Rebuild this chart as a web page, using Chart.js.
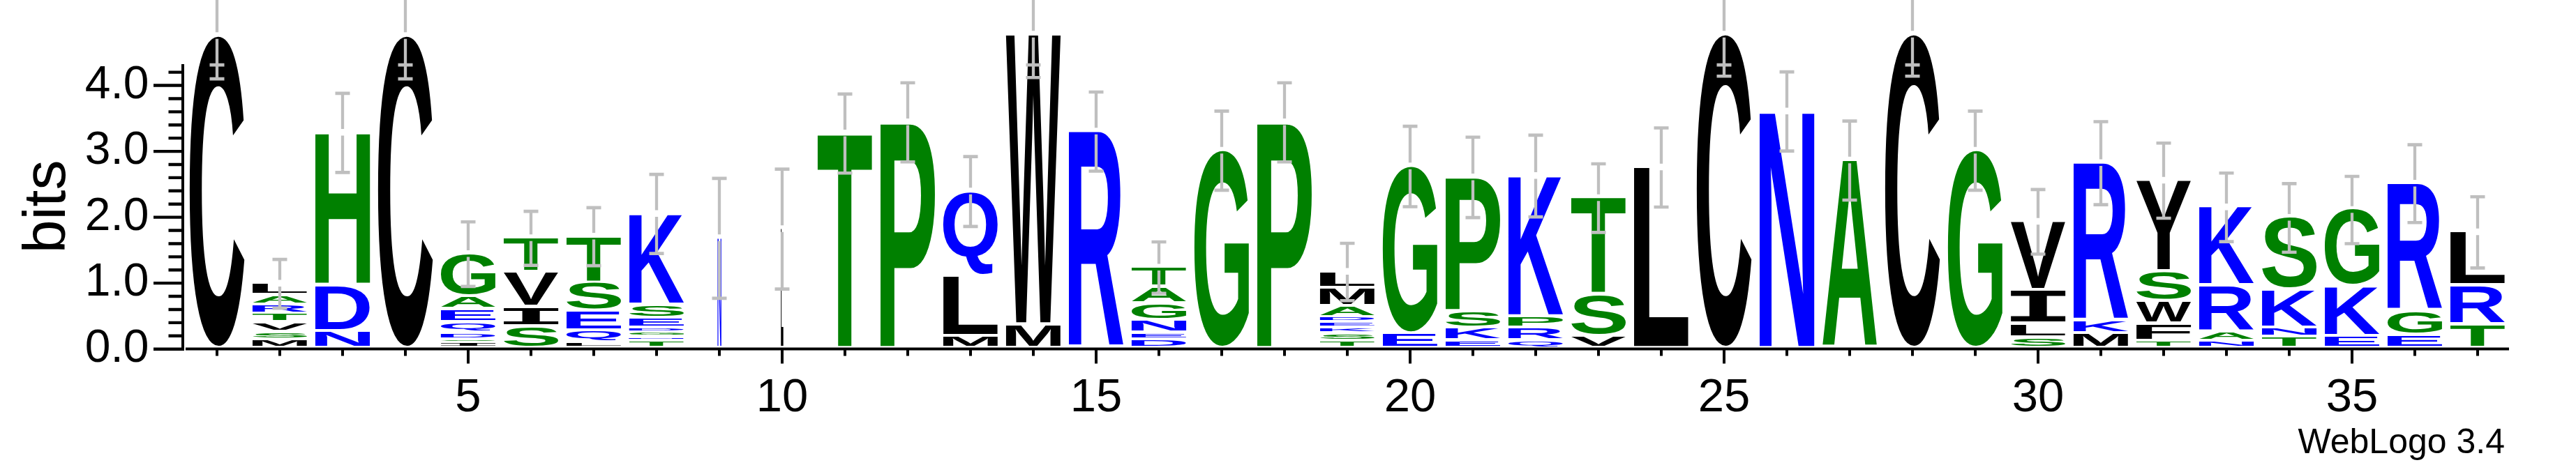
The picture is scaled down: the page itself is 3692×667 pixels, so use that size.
<!DOCTYPE html>
<html>
<head>
<meta charset="utf-8">
<script src="https://cdn.jsdelivr.net/npm/chart.js@4.4.1/dist/chart.umd.min.js"></script>
<style>
html,body{margin:0;padding:0;background:#fff;}
#wrap{width:3692px;height:667px;position:relative;}
canvas{display:block;}
</style>
</head>
<body>
<div id="wrap"><canvas id="logo" width="3692" height="667"></canvas></div>
<script>
// ---------- DATA ----------
const positions = [1,2,3,4,5,6,7,8,9,10,11,12,13,14,15,16,17,18,19,20,21,22,23,24,25,26,27,28,29,30,31,32,33,34,35,36,37];

// letters of each stack, bottom -> top
const stackLetters = ["C","MSVTRAL","NDH","C","ISDQEAG","SIVT","LQEST","TNGDESK","N","L",
  "T","P","MLQ","MW","R","DENGAT","G","P","TSKEDAML","EG",
  "EKSP","QRPK","VST","L","C","N","A","C","G","SLIV",
  "MKR","TFWSY","NARK","TNKS","EKG","EGR","TRL"];

// heights in bits of each letter, bottom -> top
const stackHeights = [
  [4.75],
  [0.13,0.115,0.145,0.135,0.135,0.145,0.185],
  [0.26,0.70,2.32],
  [4.75],
  [0.08,0.05,0.105,0.155,0.20,0.20,0.65],
  [0.33,0.295,0.535,0.52],
  [0.09,0.18,0.30,0.43,0.705],
  [0.11,0.06,0.07,0.07,0.15,0.20,1.39],
  [1.68],
  [1.82],
  [3.27],
  [3.44],
  [0.18,0.92,1.29],
  [0.36,4.41],
  [3.30],
  [0.13,0.10,0.195,0.25,0.255,0.305],
  [3.01],
  [3.44],
  [0.11,0.11,0.09,0.08,0.08,0.165,0.28,0.255],
  [0.22,2.55],
  [0.115,0.19,0.255,2.045],
  [0.115,0.19,0.175,2.145],
  [0.18,0.635,1.475],
  [2.755],
  [4.77],
  [3.605],
  [2.86],
  [4.77],
  [3.01],
  [0.16,0.21,0.51,1.05],
  [0.22,0.19,2.41],
  [0.11,0.26,0.35,0.45,1.385],
  [0.11,0.14,0.70,1.20],
  [0.17,0.14,0.575,1.105],
  [0.18,0.76,1.17],
  [0.20,0.365,1.945],
  [0.36,0.59,0.82]
];

// half length of the error bar (bits), per position
const errorHalf = [0.65,0.37,0.60,0.65,0.49,0.41,0.44,0.60,0.91,0.91,
  0.60,0.60,0.53,0.65,0.60,0.39,0.60,0.60,0.435,0.61,
  0.61,0.62,0.52,0.60,0.63,0.60,0.60,0.63,0.60,0.49,
  0.63,0.57,0.52,0.52,0.51,0.59,0.54];

// fraction of non-gap symbols (scales the stack width)
const columnWidth = [1,1,1,1,1,1,1,1,0.07,0.045,1,1,1,1,1,1,1,1,1,1,1,1,1,1,1,1,1,1,1,1,1,1,1,1,1,1,1];

const yTickValues = [0,1,2,3,4];
const xTickLabels = ["5","10","15","20","25","30","35"];
const yAxisTitle = "bits";
const creditText = "WebLogo 3.4";
const yMaxBits = Math.log2(20);

// ---------- STYLE ----------
const FAMILY = '"Liberation Sans", Arial, Helvetica, sans-serif';
const colorOf = ch => "RKDENQ".includes(ch) ? "rgb(0,0,255)" : ("SGHTAP".includes(ch) ? "rgb(0,128,0)" : "#000000");
const glyphFont = ch => (ch === "I" ? 'bold 200px "Liberation Mono", "DejaVu Sans Mono", monospace' : "bold 200px " + FAMILY);

const maxDepth = Math.max(...stackHeights.map(s => s.length));
const datasets = [];
for (let k = 0; k < maxDepth; k++) {
  datasets.push({
    label: "rank " + (k + 1),
    data: stackHeights.map(s => (k < s.length ? s[k] : 0)),
    backgroundColor: "rgba(0,0,0,0)",
    borderWidth: 0,
    stack: "logo",
    barPercentage: 0.8722,
    categoryPercentage: 1.0
  });
}

const glyphCache = {};
function glyphBox(ctx, ch) {
  if (glyphCache[ch]) return glyphCache[ch];
  ctx.save();
  ctx.font = glyphFont(ch);
  ctx.textAlign = "left";
  ctx.textBaseline = "alphabetic";
  const m = ctx.measureText(ch);
  ctx.restore();
  const g = { l: -m.actualBoundingBoxLeft, r: m.actualBoundingBoxRight, t: -m.actualBoundingBoxAscent, b: m.actualBoundingBoxDescent };
  glyphCache[ch] = g;
  return g;
}
function drawGlyph(ctx, ch, x0, y0, w, h, color) {
  const g = glyphBox(ctx, ch);
  ctx.save();
  ctx.translate(x0, y0);
  ctx.scale(w / (g.r - g.l), h / (g.b - g.t));
  ctx.translate(-g.l, -g.t);
  ctx.font = glyphFont(ch);
  ctx.textAlign = "left";
  ctx.textBaseline = "alphabetic";
  ctx.fillStyle = color;
  ctx.fillText(ch, 0, 0);
  ctx.restore();
}

const logoPlugin = {
  id: "logoPlugin",
  afterDatasetsDraw(chart) {
    const ctx = chart.ctx;
    const xs = chart.scales.x, ys = chart.scales.y;
    const GAP = 4.5;
    chart.data.datasets.forEach((ds, k) => {
      const meta = chart.getDatasetMeta(k);
      meta.data.forEach((el, i) => {
        const h = ds.data[i];
        if (!h) return;
        const ch = stackLetters[i][k];
        const p = el.getProps(["x", "y", "base", "width"], true);
        const w = p.width * columnWidth[i];
        const yTop = p.y;
        const hh = Math.max(p.base - GAP - yTop, 0.8);
        drawGlyph(ctx, ch, p.x - w / 2, yTop, w, hh, colorOf(ch));
      });
    });
    // error bars
    const ca = chart.chartArea;
    ctx.save();
    ctx.strokeStyle = "rgb(191,191,191)";
    ctx.lineCap = "butt";
    positions.forEach((pos, i) => {
      const total = stackHeights[i].reduce((a, b) => a + b, 0);
      const cx = xs.getPixelForValue(i);
      const yc = ys.getPixelForValue(total);
      const y1 = ys.getPixelForValue(total + errorHalf[i]);
      const y2 = ys.getPixelForValue(total - errorHalf[i]);
      ctx.lineWidth = 4.3;
      ctx.beginPath();
      ctx.moveTo(cx, y1); ctx.lineTo(cx, yc - 5.5);
      ctx.moveTo(cx, yc + 4); ctx.lineTo(cx, y2);
      ctx.stroke();
      ctx.lineWidth = 4.6;
      ctx.beginPath();
      ctx.moveTo(cx - 10.5, y1); ctx.lineTo(cx + 10.5, y1);
      ctx.moveTo(cx - 10.5, y2); ctx.lineTo(cx + 10.5, y2);
      if (y1 < ca.top) { ctx.moveTo(cx - 10.5, ca.top + 1); ctx.lineTo(cx + 10.5, ca.top + 1); }
      ctx.stroke();
    });
    ctx.restore();
  },
  afterDraw(chart) {
    const ctx = chart.ctx;
    const ca = chart.chartArea;
    const xs = chart.scales.x, ys = chart.scales.y;
    const y0 = ys.getPixelForValue(0);
    ctx.save();
    ctx.strokeStyle = "#000";
    ctx.lineCap = "butt";
    // y axis line
    ctx.lineWidth = 4;
    ctx.beginPath();
    ctx.moveTo(ca.left - 4, ca.top);
    ctx.lineTo(ca.left - 4, y0 + 2.2);
    ctx.stroke();
    // y ticks (major at labelled values, minor every 0.2)
    ctx.lineWidth = 4.4;
    ctx.beginPath();
    for (let j = 0; j * 0.2 <= yMaxBits; j++) {
      const v = j * 0.2;
      const yy = ys.getPixelForValue(v);
      const major = j % 5 === 0;
      ctx.moveTo(major ? ca.left - 46 : ca.left - 24.5, yy);
      ctx.lineTo(ca.left - 2, yy);
    }
    ctx.stroke();
    // x axis line
    ctx.lineWidth = 4;
    ctx.beginPath();
    ctx.moveTo(ca.left, y0 - 0.3);
    ctx.lineTo(ca.right, y0 - 0.3);
    ctx.stroke();
    // x ticks
    ctx.beginPath();
    positions.forEach((pos, i) => {
      const cx = xs.getPixelForValue(i);
      const major = xTickLabels.includes(String(pos));
      ctx.moveTo(cx, y0);
      ctx.lineTo(cx, y0 + (major ? 20.7 : 9.7));
    });
    ctx.stroke();
    // x tick labels
    ctx.fillStyle = "#000";
    ctx.font = "67px " + FAMILY;
    ctx.textAlign = "center";
    ctx.textBaseline = "alphabetic";
    positions.forEach((pos, i) => {
      if (xTickLabels.includes(String(pos))) ctx.fillText(String(pos), xs.getPixelForValue(i), y0 + 89.5);
    });
    // credit
    ctx.font = "50px " + FAMILY;
    ctx.textAlign = "right";
    ctx.fillText(creditText, 3590, 650);
    ctx.restore();
  }
};

Chart.defaults.font.family = FAMILY;
Chart.defaults.color = "#000";

new Chart(document.getElementById("logo"), {
  type: "bar",
  data: { labels: positions.map(String), datasets: datasets },
  options: {
    responsive: false,
    animation: false,
    events: [],
    layout: { padding: { top: 49.7, right: 96, bottom: 0, left: 0 } },
    plugins: { legend: { display: false }, tooltip: { enabled: false }, title: { display: false } },
    scales: {
      x: {
        type: "category",
        stacked: true,
        offset: true,
        grid: { display: false, drawTicks: false },
        border: { display: false },
        ticks: { display: false, autoSkip: false, maxRotation: 0, minRotation: 0 },
        afterFit: s => { s.height = 166.3; }
      },
      y: {
        type: "linear",
        stacked: true,
        min: 0,
        max: yMaxBits,
        grid: { display: false, drawTicks: false },
        border: { display: false },
        ticks: {
          padding: 52.5,
          font: { size: 66, family: FAMILY },
          color: "#000",
          callback: v => Number(v).toFixed(1)
        },
        afterBuildTicks: s => { s.ticks = yTickValues.map(v => ({ value: v })); },
        title: { display: true, text: yAxisTitle, font: { size: 86, family: FAMILY }, color: "#000", padding: { top: 17.4, bottom: 0 } },
        afterFit: s => { s.width = 266; }
      }
    }
  },
  plugins: [logoPlugin]
});
</script>
</body>
</html>
